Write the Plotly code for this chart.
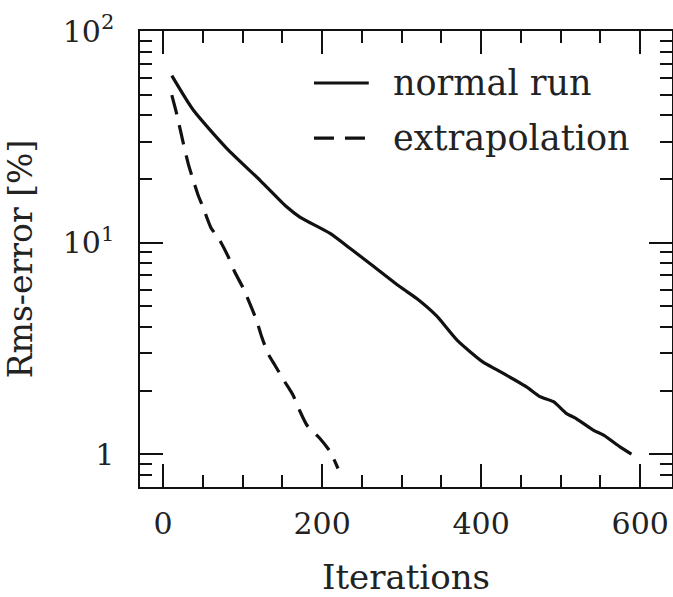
import plotly.graph_objects as go

# normal run (iterations, rms error in %)
normal_iter = [11, 38, 80, 122, 155, 172, 210, 235, 260, 298, 319, 344, 370,
               402, 421, 457, 474, 491, 507, 520, 541, 554, 575, 589]
normal_err = [61.5, 42.3, 27.9, 19.7, 14.8, 13.2, 11.05, 9.4, 7.97, 6.18, 5.44,
              4.5, 3.45, 2.73, 2.49, 2.08, 1.87, 1.77, 1.56, 1.47, 1.30, 1.23,
              1.08, 1.0]

# extrapolation
extrap_iter = [11, 17, 25, 31.5, 38, 44, 50, 60, 71, 82, 90, 101, 109, 117.5,
               124, 132, 140.5, 153, 163.5, 172, 181, 197, 210, 220]
extrap_err = [49.8, 40.8, 30.0, 23.7, 19.7, 16.8, 14.8, 11.8, 10.3, 8.57, 7.28,
              6.07, 5.16, 4.30, 3.59, 2.99, 2.64, 2.20, 1.90, 1.6, 1.37, 1.19,
              1.03, 0.856]

x_ticks = [0, 200, 400, 600]
y_ticks = [1, 10, 100]
y_ticklabels = ["1", "10<sup>1</sup>", "10<sup>2</sup>"]
y_minor = [0.7, 0.8, 0.9, 2, 3, 4, 5, 6, 7, 8, 9, 20, 30, 40, 50, 60, 70, 80, 90]

FONT = "DejaVu Serif"
INK = "#111"
TXT = "#222"
Y_RANGE = [-0.155, 2]

fig = go.Figure()
fig.add_trace(go.Scatter(
    x=normal_iter, y=normal_err, mode="lines", name="normal run",
    line=dict(color=INK, width=3.2, shape="spline", smoothing=0.6),
))
fig.add_trace(go.Scatter(
    x=extrap_iter, y=extrap_err, mode="lines", name="extrapolation", yaxis="y2",
    line=dict(color=INK, width=3.2, dash="20px,11px", shape="spline", smoothing=0.6),
))
# empty trace so the right-hand minor-tick axis gets drawn
fig.add_trace(go.Scatter(x=[], y=[], yaxis="y3", hoverinfo="skip"))

# legend drawn by hand to match the original sample length
legend_items = [("normal run", "solid", 0.886), ("extrapolation", "20px,11px", 0.765)]
for label, dash, yy in legend_items:
    fig.add_shape(type="line", xref="paper", yref="paper",
                  x0=0.327, x1=0.430, y0=yy, y1=yy,
                  line=dict(color=INK, width=3.2, dash=dash))
    fig.add_annotation(text=label, xref="paper", yref="paper", x=0.472, y=yy,
                       xanchor="left", yanchor="middle", showarrow=False,
                       font=dict(family=FONT, size=35, color=TXT))

minor_axis = dict(
    type="log", range=Y_RANGE, overlaying="y",
    tickvals=y_minor, ticks="inside", ticklen=12, tickwidth=1.5, tickcolor=INK,
    showticklabels=False, showline=False, showgrid=False, zeroline=False,
    automargin=False,
)

fig.update_layout(
    width=673, height=597,
    margin=dict(l=140, r=1, t=31, b=110),
    paper_bgcolor="white", plot_bgcolor="white",
    showlegend=False,
    xaxis=dict(
        range=[-29, 640], tickvals=x_ticks, ticks="inside", ticklen=23,
        tickwidth=1.5, tickcolor=INK, showline=True, linecolor=INK, linewidth=1.5,
        mirror="ticks", showgrid=False, zeroline=False, ticklabelstandoff=9,
        automargin=False,
        minor=dict(dtick=50, ticks="inside", ticklen=12, tickwidth=1.5, tickcolor=INK),
        tickfont=dict(family=FONT, size=30, color=TXT),
        title=dict(text="Iterations", font=dict(family=FONT, size=34, color=TXT),
                   standoff=26),
    ),
    yaxis=dict(
        type="log", range=Y_RANGE, tickvals=y_ticks, ticktext=y_ticklabels,
        ticks="inside", ticklen=23, tickwidth=1.5, tickcolor=INK,
        showline=True, linecolor=INK, linewidth=1.5, mirror="ticks",
        showgrid=False, zeroline=False, ticklabelstandoff=18, automargin=False,
        tickfont=dict(family=FONT, size=30, color=TXT),
        title=dict(text="Rms-error [%]", font=dict(family=FONT, size=33, color=TXT),
                   standoff=20),
    ),
    # overlay axes carrying the short minor ticks of the log scale, both sides
    yaxis2=dict(minor_axis, side="left"),
    yaxis3=dict(minor_axis, side="right"),
)

# page body margin would shift the 673x597 figure off the window
fig.write_html("out.html", config={"displayModeBar": False},
               post_script="document.body.style.margin='0';")
